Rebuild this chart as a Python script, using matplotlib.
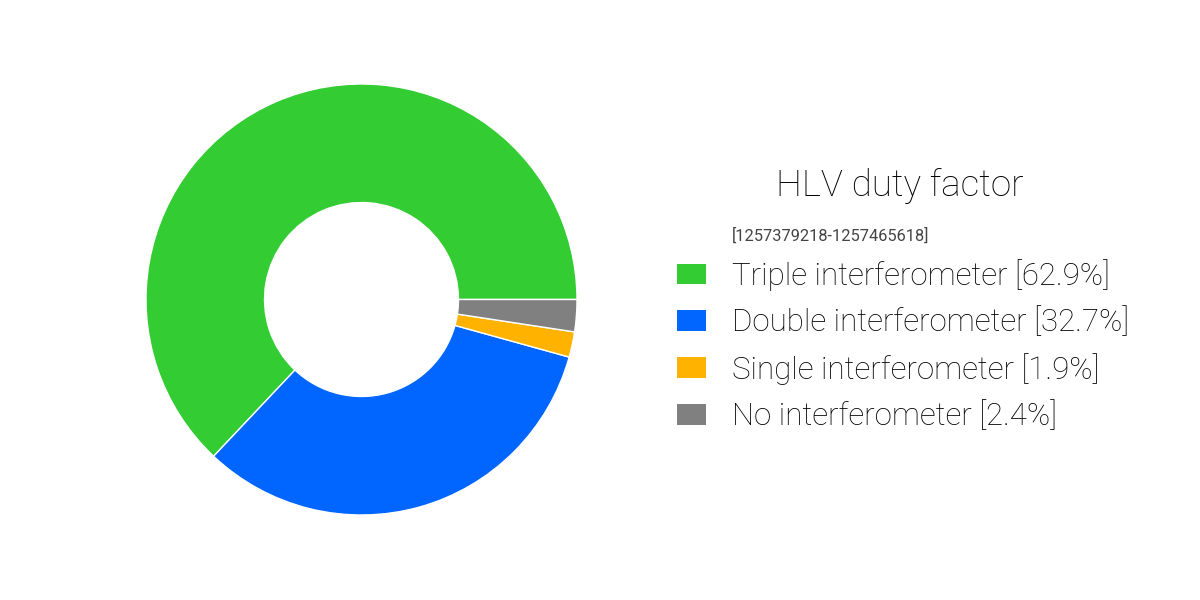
import matplotlib.pyplot as plt

# duty factor fractions (percent)
labels = ['Triple interferometer', 'Double interferometer',
          'Single interferometer', 'No interferometer']
values = [62.9, 32.7, 1.9, 2.4]
colors = ['#33cc33', '#0066ff', '#ffb200', '#808080']
title = 'HLV duty factor'
subtitle = '[1257379218-1257465618]'

plt.rcParams['font.family'] = ['Roboto', 'DejaVu Sans']

fig = plt.figure(figsize=(12, 6), dpi=100)
ax = fig.add_axes([146 / 1200, 85 / 600, 431 / 1200, 431 / 600])

wedges, _ = ax.pie(values, colors=colors, startangle=0, counterclock=True,
                   radius=1, wedgeprops=dict(width=0.55, edgecolor='white', linewidth=1))
ax.set_xlim(-1, 1)
ax.set_ylim(-1, 1)
ax.set_aspect('equal')
ax.axis('off')

fig.text(900 / 1200, 1 - 186 / 600, title, fontsize=26.5, fontweight='light',
         ha='center', va='center')
fig.text(732 / 1200, 1 - 236 / 600, subtitle, fontsize=11.8, fontweight='normal',
         color='#444444', ha='left', va='center')

leg_labels = [f'{l} [{v}%]' for l, v in zip(labels, values)]
leg = fig.legend(wedges, leg_labels, loc='upper left',
                 bbox_to_anchor=(677 / 1200, 1 - 259 / 600), frameon=False,
                 borderpad=0, borderaxespad=0,
                 handlelength=0.93, handleheight=0.65, handletextpad=0.83,
                 labelspacing=0.50, prop=dict(weight='light', size=22.5))
for h in leg.legend_handles:
    h.set_edgecolor('none')

fig.savefig('out.png', dpi=100)
